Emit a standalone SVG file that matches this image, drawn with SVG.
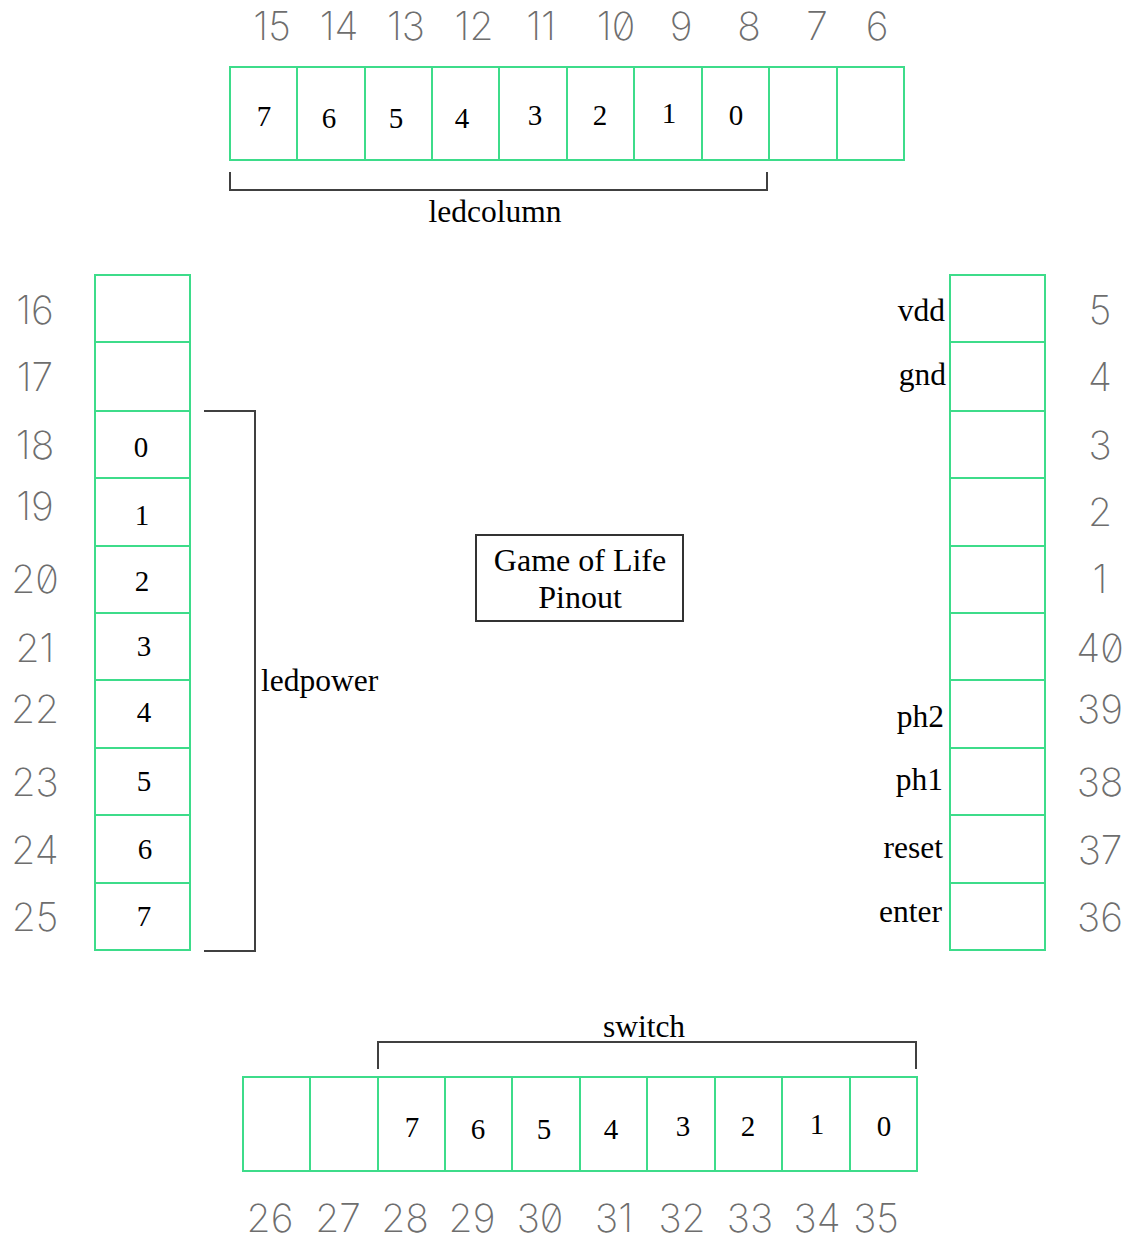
<svg xmlns="http://www.w3.org/2000/svg" width="1130" height="1241" viewBox="0 0 1130 1241">
  <style>
    .cell { fill: #ffffff; stroke: #3ddc8a; stroke-width: 2; }
    .br { fill: none; stroke: #404040; stroke-width: 2; }
    .pin { font-family: Inter, "DejaVu Sans", sans-serif; font-weight: 200; font-size: 39px; fill: #6e6e6e; text-anchor: middle; font-feature-settings: "zero" 1; }
    .bit { font-family: "Liberation Serif", serif; font-size: 29px; fill: #000; text-anchor: middle; }
    .lbl { font-family: "Liberation Serif", serif; font-size: 31.5px; fill: #000; }
    .title { font-family: "Liberation Serif", serif; font-size: 32px; fill: #000; text-anchor: middle; }
  </style>
  <rect width="1130" height="1241" fill="#ffffff"/>

  <!-- top header: pins 15..6 -->
  <g id="top-header">
    <rect class="cell" x="230" y="67" width="67" height="93"/>
    <rect class="cell" x="297" y="67" width="68" height="93"/>
    <rect class="cell" x="365" y="67" width="67" height="93"/>
    <rect class="cell" x="432" y="67" width="67" height="93"/>
    <rect class="cell" x="499" y="67" width="68" height="93"/>
    <rect class="cell" x="567" y="67" width="67" height="93"/>
    <rect class="cell" x="634" y="67" width="68" height="93"/>
    <rect class="cell" x="702" y="67" width="67" height="93"/>
    <rect class="cell" x="769" y="67" width="68" height="93"/>
    <rect class="cell" x="837" y="67" width="67" height="93"/>
    <text class="bit" x="264" y="126">7</text>
    <text class="bit" x="329" y="128">6</text>
    <text class="bit" x="396" y="128">5</text>
    <text class="bit" x="462" y="128">4</text>
    <text class="bit" x="535" y="125">3</text>
    <text class="bit" x="600" y="125">2</text>
    <text class="bit" x="669" y="123">1</text>
    <text class="bit" x="736" y="125">0</text>
    <text class="pin" x="272" y="40">15</text>
    <text class="pin" x="339" y="40">14</text>
    <text class="pin" x="406" y="40">13</text>
    <text class="pin" x="474" y="40">12</text>
    <text class="pin" x="541" y="40">11</text>
    <text class="pin" x="616" y="40">10</text>
    <text class="pin" x="681" y="40">9</text>
    <text class="pin" x="749" y="40">8</text>
    <text class="pin" x="817" y="40">7</text>
    <text class="pin" x="877" y="40">6</text>
  </g>

  <!-- left header: pins 16..25 -->
  <g id="left-header">
    <rect class="cell" x="95" y="275" width="95" height="67"/>
    <rect class="cell" x="95" y="342" width="95" height="69"/>
    <rect class="cell" x="95" y="411" width="95" height="67"/>
    <rect class="cell" x="95" y="478" width="95" height="68"/>
    <rect class="cell" x="95" y="546" width="95" height="67"/>
    <rect class="cell" x="95" y="613" width="95" height="67"/>
    <rect class="cell" x="95" y="680" width="95" height="68"/>
    <rect class="cell" x="95" y="748" width="95" height="67"/>
    <rect class="cell" x="95" y="815" width="95" height="68"/>
    <rect class="cell" x="95" y="883" width="95" height="67"/>
    <text class="bit" x="141" y="457">0</text>
    <text class="bit" x="142" y="525">1</text>
    <text class="bit" x="142" y="591">2</text>
    <text class="bit" x="144" y="656">3</text>
    <text class="bit" x="144" y="722">4</text>
    <text class="bit" x="144" y="791">5</text>
    <text class="bit" x="145" y="859">6</text>
    <text class="bit" x="144" y="926">7</text>
    <text class="pin" x="35" y="324">16</text>
    <text class="pin" x="35" y="391">17</text>
    <text class="pin" x="35" y="459">18</text>
    <text class="pin" x="35" y="520">19</text>
    <text class="pin" x="35" y="593">20</text>
    <text class="pin" x="35" y="662">21</text>
    <text class="pin" x="35" y="723">22</text>
    <text class="pin" x="35" y="796">23</text>
    <text class="pin" x="35" y="864">24</text>
    <text class="pin" x="35" y="931">25</text>
  </g>

  <!-- right header: pins 5..1, 40..36 -->
  <g id="right-header">
    <rect class="cell" x="950" y="275" width="95" height="67"/>
    <rect class="cell" x="950" y="342" width="95" height="69"/>
    <rect class="cell" x="950" y="411" width="95" height="67"/>
    <rect class="cell" x="950" y="478" width="95" height="68"/>
    <rect class="cell" x="950" y="546" width="95" height="67"/>
    <rect class="cell" x="950" y="613" width="95" height="67"/>
    <rect class="cell" x="950" y="680" width="95" height="68"/>
    <rect class="cell" x="950" y="748" width="95" height="67"/>
    <rect class="cell" x="950" y="815" width="95" height="68"/>
    <rect class="cell" x="950" y="883" width="95" height="67"/>
    <g class="lbl" text-anchor="end">
      <text x="945" y="321">vdd</text>
      <text x="946" y="385">gnd</text>
      <text x="944" y="727">ph2</text>
      <text x="943" y="790">ph1</text>
      <text x="943" y="858">reset</text>
      <text x="942" y="922">enter</text>
    </g>
    <text class="pin" x="1100" y="324">5</text>
    <text class="pin" x="1100" y="391">4</text>
    <text class="pin" x="1100" y="459">3</text>
    <text class="pin" x="1100" y="526">2</text>
    <text class="pin" x="1100" y="593">1</text>
    <text class="pin" x="1100" y="662">40</text>
    <text class="pin" x="1100" y="723">39</text>
    <text class="pin" x="1100" y="796">38</text>
    <text class="pin" x="1100" y="864">37</text>
    <text class="pin" x="1100" y="931">36</text>
  </g>

  <!-- bottom header: pins 26..35 -->
  <g id="bottom-header">
    <rect class="cell" x="243" y="1077" width="67" height="94"/>
    <rect class="cell" x="310" y="1077" width="68" height="94"/>
    <rect class="cell" x="378" y="1077" width="67" height="94"/>
    <rect class="cell" x="445" y="1077" width="67" height="94"/>
    <rect class="cell" x="512" y="1077" width="68" height="94"/>
    <rect class="cell" x="580" y="1077" width="67" height="94"/>
    <rect class="cell" x="647" y="1077" width="68" height="94"/>
    <rect class="cell" x="715" y="1077" width="67" height="94"/>
    <rect class="cell" x="782" y="1077" width="68" height="94"/>
    <rect class="cell" x="850" y="1077" width="67" height="94"/>
    <text class="bit" x="412" y="1137">7</text>
    <text class="bit" x="478" y="1139">6</text>
    <text class="bit" x="544" y="1139">5</text>
    <text class="bit" x="611" y="1139">4</text>
    <text class="bit" x="683" y="1136">3</text>
    <text class="bit" x="748" y="1136">2</text>
    <text class="bit" x="817" y="1134">1</text>
    <text class="bit" x="884" y="1136">0</text>
    <text class="pin" x="270" y="1232">26</text>
    <text class="pin" x="338" y="1232">27</text>
    <text class="pin" x="405" y="1232">28</text>
    <text class="pin" x="472" y="1232">29</text>
    <text class="pin" x="540" y="1232">30</text>
    <text class="pin" x="614" y="1232">31</text>
    <text class="pin" x="682" y="1232">32</text>
    <text class="pin" x="750" y="1232">33</text>
    <text class="pin" x="817" y="1232">34</text>
    <text class="pin" x="876" y="1232">35</text>
  </g>

  <!-- title box -->
  <g id="title">
    <rect x="476" y="535" width="207" height="86" fill="#ffffff" stroke="#333" stroke-width="2"/>
    <text class="title" x="580" y="571">Game of Life</text>
    <text class="title" x="580" y="608">Pinout</text>
  </g>

  <!-- group brackets -->
  <g id="brackets">
    <path class="br" d="M230,172 V190 H767 V172"/>
    <path class="br" d="M204,411 H255 V951 H204"/>
    <path class="br" d="M378,1069 V1042 H916 V1069"/>
    <text class="lbl" x="495" y="222" text-anchor="middle">ledcolumn</text>
    <text class="lbl" x="261" y="691">ledpower</text>
    <text class="lbl" x="644" y="1037" text-anchor="middle">switch</text>
  </g>
</svg>
